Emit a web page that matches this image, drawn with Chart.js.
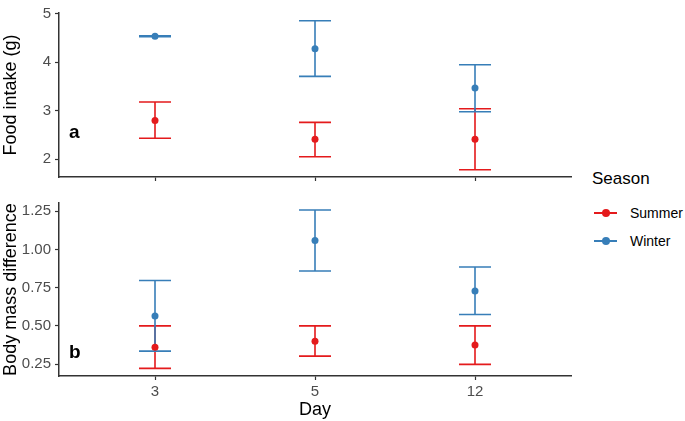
<!DOCTYPE html>
<html lang="en">
<head>
    <meta charset="UTF-8">
    <title>Food intake and body mass by season</title>
    <script src="https://cdn.jsdelivr.net/npm/chart.js"></script>
    <style>
        body {
            margin: 0;
            width: 685px;
            height: 421px;
            background: #fff;
            font-family: 'Liberation Sans', Arial, sans-serif;
            position: relative;
            overflow: hidden;
        }
        .panel {
            position: absolute;
            left: 0;
            width: 580px;
        }
        #top { top: 0; height: 190px; }
        #bottom { top: 190px; height: 231px; }
        .legend {
            position: absolute;
            left: 592px;
            top: 169px;
            color: #000;
        }
        .legend .title {
            font-size: 17px;
            margin-bottom: 10px;
        }
        .legend .item {
            position: relative;
            height: 28px;
            font-size: 14px;
            line-height: 28px;
            padding-left: 38px;
        }
        .legend .item i {
            position: absolute;
            left: 2px;
            top: 13px;
            width: 23px;
            height: 2px;
        }
        .legend .item b {
            position: absolute;
            left: 10px;
            top: 10px;
            width: 8px;
            height: 8px;
            border-radius: 50%;
        }
    </style>
</head>
<body>
    <div class="panel" id="top"><canvas id="foodChart"></canvas></div>
    <div class="panel" id="bottom"><canvas id="massChart"></canvas></div>

    <div class="legend">
        <div class="title">Season</div>
        <div class="item"><i style="background:#E41A1C"></i><b style="background:#E41A1C"></b>Summer</div>
        <div class="item"><i style="background:#377EB8"></i><b style="background:#377EB8"></b>Winter</div>
    </div>

    <script>
        // days on the x axis
        const days = ['3', '5', '12'];

        // food intake (g): mean, lower and upper error bar
        const summerFood = [2.80, 2.41, 2.41];
        const summerFoodLo = [2.43, 2.05, 1.78];
        const summerFoodHi = [3.18, 2.76, 3.04];
        const winterFood = [4.54, 4.28, 3.47];
        const winterFoodLo = [4.53, 3.71, 2.98];
        const winterFoodHi = [4.55, 4.86, 3.95];

        // body mass difference: mean, lower and upper error bar
        const summerMass = [0.36, 0.40, 0.375];
        const summerMassLo = [0.222, 0.302, 0.248];
        const summerMassHi = [0.50, 0.50, 0.50];
        const winterMass = [0.565, 1.058, 0.728];
        const winterMassLo = [0.335, 0.859, 0.574];
        const winterMassHi = [0.797, 1.258, 0.885];

        const red = '#E41A1C';
        const blue = '#377EB8';
        const axisColor = '#333333';
        const font = "'Liberation Sans', Arial, sans-serif";

        Chart.defaults.font.family = font;
        Chart.defaults.animation = false;

        // draws the error bars from each dataset's lo / hi arrays
        const errorBars = {
            id: 'errorBars',
            beforeDatasetsDraw(chart) {
                const ctx = chart.ctx;
                const xs = chart.scales.x;
                const ys = chart.scales.y;
                chart.data.datasets.forEach(ds => {
                    ctx.save();
                    ctx.strokeStyle = ds.borderColor;
                    ctx.lineWidth = 1.6;
                    ds.data.forEach((p, i) => {
                        const x = xs.getPixelForValue(p.x);
                        const x0 = xs.getPixelForValue(p.x - 0.1);
                        const x1 = xs.getPixelForValue(p.x + 0.1);
                        const yLo = ys.getPixelForValue(ds.lo[i]);
                        const yHi = ys.getPixelForValue(ds.hi[i]);
                        ctx.beginPath();
                        ctx.moveTo(x, yLo);
                        ctx.lineTo(x, yHi);
                        ctx.moveTo(x0, yLo);
                        ctx.lineTo(x1, yLo);
                        ctx.moveTo(x0, yHi);
                        ctx.lineTo(x1, yHi);
                        ctx.stroke();
                    });
                    ctx.restore();
                });
            }
        };

        // panel letter in the bottom-left corner
        const panelLabel = {
            id: 'panelLabel',
            afterDraw(chart, args, opts) {
                const ctx = chart.ctx;
                ctx.save();
                ctx.font = 'bold 19px ' + font;
                ctx.fillStyle = '#000';
                ctx.textBaseline = 'middle';
                ctx.fillText(opts.text, chart.chartArea.left + 10, opts.y);
                ctx.restore();
            }
        };

        function toPoints(values) {
            return values.map((v, i) => ({ x: i + 1, y: v }));
        }

        function makeChart(id, cfg) {
            return new Chart(document.getElementById(id), {
                type: 'line',
                data: {
                    datasets: [
                        {
                            label: 'Summer',
                            data: toPoints(cfg.summer),
                            lo: cfg.summerLo,
                            hi: cfg.summerHi,
                            borderColor: red,
                            backgroundColor: red,
                            showLine: false,
                            pointRadius: 3.5,
                            pointBorderWidth: 0
                        },
                        {
                            label: 'Winter',
                            data: toPoints(cfg.winter),
                            lo: cfg.winterLo,
                            hi: cfg.winterHi,
                            borderColor: blue,
                            backgroundColor: blue,
                            showLine: false,
                            pointRadius: 3.5,
                            pointBorderWidth: 0
                        }
                    ]
                },
                options: {
                    responsive: true,
                    maintainAspectRatio: false,
                    layout: { padding: { top: cfg.padTop, right: 9, bottom: 0, left: 0 } },
                    plugins: {
                        legend: { display: false },
                        tooltip: { enabled: false },
                        panelLabel: { text: cfg.letter, y: cfg.letterY }
                    },
                    scales: {
                        x: {
                            type: 'linear',
                            min: 0.4,
                            max: 3.6,
                            afterBuildTicks: s => { s.ticks = days.map((d, i) => ({ value: i + 1 })); },
                            afterFit: s => { s.height = cfg.xHeight; },
                            border: { display: true, color: axisColor, width: 1.5 },
                            grid: { display: true, drawOnChartArea: false, tickLength: 4, color: axisColor, tickWidth: 1.2 },
                            ticks: {
                                display: cfg.showX,
                                callback: v => days[v - 1],
                                color: '#4D4D4D',
                                font: { size: 15 },
                                padding: 3,
                                maxRotation: 0
                            },
                            title: {
                                display: cfg.showX,
                                text: 'Day',
                                color: '#000',
                                font: { size: 18 },
                                padding: { top: 0, bottom: 0 }
                            }
                        },
                        y: {
                            min: cfg.yMin,
                            max: cfg.yMax,
                            afterBuildTicks: s => { s.ticks = cfg.yTicks.map(v => ({ value: v })); },
                            afterFit: s => { s.width = 59; },
                            border: { display: true, color: axisColor, width: 1.5 },
                            grid: { display: true, drawOnChartArea: false, tickLength: 4, color: axisColor, tickWidth: 1.2 },
                            ticks: {
                                callback: v => cfg.yFmt(v),
                                color: '#4D4D4D',
                                font: { size: 15 },
                                padding: 4
                            },
                            title: {
                                display: true,
                                text: cfg.yTitle,
                                color: '#000',
                                font: { size: 18 },
                                padding: { top: 0, bottom: 1 }
                            }
                        }
                    }
                },
                plugins: [errorBars, panelLabel]
            });
        }

        makeChart('foodChart', {
            summer: summerFood, summerLo: summerFoodLo, summerHi: summerFoodHi,
            winter: winterFood, winterLo: winterFoodLo, winterHi: winterFoodHi,
            yMin: 1.63, yMax: 5.02,
            yTicks: [2, 3, 4, 5],
            yFmt: v => String(v),
            yTitle: 'Food intake (g)',
            padTop: 4, xHeight: 12, showX: false,
            letter: 'a', letterY: 133
        });

        makeChart('massChart', {
            summer: summerMass, summerLo: summerMassLo, summerHi: summerMassHi,
            winter: winterMass, winterLo: winterMassLo, winterHi: winterMassHi,
            yMin: 0.172, yMax: 1.304,
            yTicks: [0.25, 0.5, 0.75, 1.0, 1.25],
            yFmt: v => v.toFixed(2),
            yTitle: 'Body mass difference',
            padTop: 12, xHeight: 45, showX: true,
            letter: 'b', letterY: 163
        });
    </script>
</body>
</html>
